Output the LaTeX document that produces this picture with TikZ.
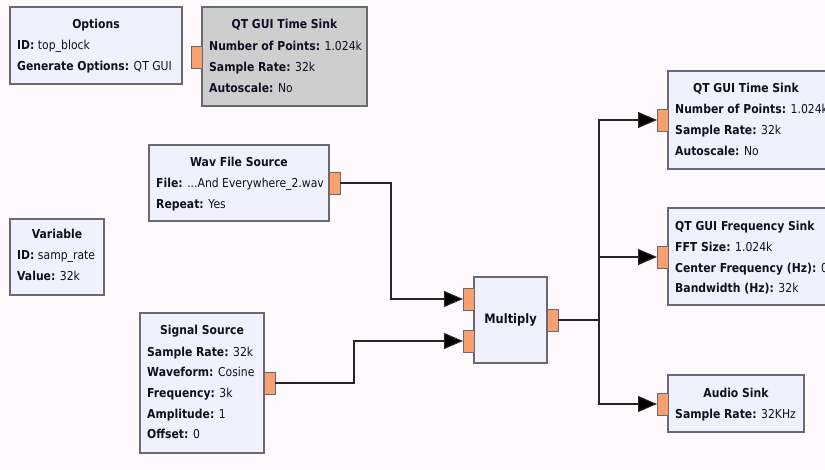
\documentclass[tikz,border=0pt]{standalone}
\usepackage{fontspec}
\setmainfont[FakeStretch=0.88]{DejaVu Sans}
\usetikzlibrary{arrows.meta}
\definecolor{bgc}{RGB}{253,249,253}
\definecolor{blkfill}{RGB}{240,240,254}
\definecolor{grayfill}{RGB}{206,206,206}
\definecolor{bordc}{RGB}{105,105,110}
\definecolor{portc}{RGB}{248,160,112}
\definecolor{txtc}{RGB}{15,15,35}
\begin{document}
\begin{tikzpicture}[x=1pt,y=-1pt,
  blk/.style={draw=bordc, fill=blkfill, line width=1.1pt, inner sep=0pt, outer sep=0pt, anchor=north west},
  gblk/.style={blk, fill=grayfill},
  port/.style={draw=bordc, fill=portc, line width=0.8pt, minimum width=11pt, minimum height=22pt, inner sep=0pt, outer sep=0pt, anchor=north west},
  lbl/.style={anchor=base west, inner sep=0pt, font=\fontsize{12.3}{14}\selectfont, text=txtc},
  ttl/.style={anchor=base, inner sep=0pt, font=\fontsize{12.3}{14}\selectfont\bfseries, text=txtc},
  wire/.style={line width=1.1pt, draw=black!85},
  arr/.style={wire, -{Triangle[length=19pt,width=16pt,fill=black]}}]
\fill[bgc] (0,0) rectangle (825,470);
\useasboundingbox (0,0) rectangle (825,470);
\begin{scope}
\clip (0,0) rectangle (825,470);
% Options
\node[blk, minimum width=172pt, minimum height=77pt] (opt) at (10,7) {};
\node[ttl] (optT) at (96,28.5) {Options};
\node[lbl] (optA) at (17,49.5) {\textbf{ID:} top\_block};
\node[lbl] (optB) at (17,70.5) {\textbf{Generate Options:} QT GUI};
% Gray time sink
\node[gblk, minimum width=165pt, minimum height=99pt] (gts) at (202,7) {};
\node[port] (gtsp) at (191,46) {};
\node[ttl] (gtsT) at (284.5,29) {QT GUI Time Sink};
\node[lbl] (gtsA) at (209,50.5) {\textbf{Number of Points:} 1.024k};
\node[lbl] (gtsB) at (209,71.5) {\textbf{Sample Rate:} 32k};
\node[lbl] (gtsC) at (209,92.5) {\textbf{Autoscale:} No};
% Wav File Source
\node[blk, minimum width=180pt, minimum height=76pt] (wav) at (149,145) {};
\node[port] (wavp) at (329,172) {};
\node[ttl] (wavT) at (239,167) {Wav File Source};
\node[lbl] (wavA) at (156,188) {\textbf{File:} ...And Everywhere\_2.wav};
\node[lbl] (wavB) at (156,209) {\textbf{Repeat:} Yes};
% Variable
\node[blk, minimum width=94pt, minimum height=76pt] (var) at (10,219) {};
\node[ttl] (varT) at (57,239) {Variable};
\node[lbl] (varA) at (17,260) {\textbf{ID:} samp\_rate};
\node[lbl] (varB) at (17,281) {\textbf{Value:} 32k};
% Signal Source
\node[blk, minimum width=124pt, minimum height=140pt] (sig) at (140,313) {};
\node[port] (sigp) at (264,372) {};
\node[ttl] (sigT) at (202,335) {Signal Source};
\node[lbl] (sigA) at (147,356.5) {\textbf{Sample Rate:} 32k};
\node[lbl] (sigB) at (147,377) {\textbf{Waveform:} Cosine};
\node[lbl] (sigC) at (147,397.5) {\textbf{Frequency:} 3k};
\node[lbl] (sigD) at (147,418) {\textbf{Amplitude:} 1};
\node[lbl] (sigE) at (147,438.5) {\textbf{Offset:} 0};
% Multiply
\node[blk, minimum width=73pt, minimum height=86pt] (mul) at (474,277) {};
\node[port] (m1) at (463,288) {};
\node[port] (m2) at (463,330) {};
\node[port] (mo) at (547,309) {};
\node[ttl, anchor=center, font=\fontsize{13}{15}\selectfont\bfseries] (mulT) at (510.5,320) {Multiply};
% Right time sink
\node[blk, minimum width=170pt, minimum height=98pt] (ts) at (668,71) {};
\node[port] (tsp) at (657,109) {};
\node[ttl] (tsT) at (746,93) {QT GUI Time Sink};
\node[lbl] (tsA) at (675,114) {\textbf{Number of Points:} 1.024k};
\node[lbl] (tsB) at (675,135) {\textbf{Sample Rate:} 32k};
\node[lbl] (tsC) at (675,155.5) {\textbf{Autoscale:} No};
% Frequency sink
\node[blk, minimum width=190pt, minimum height=97pt] (fs) at (668,208) {};
\node[port] (fsp) at (657,246) {};
\node[ttl, anchor=base west] (fsT) at (675,230.5) {QT GUI Frequency Sink};
\node[lbl] (fsA) at (675,251.5) {\textbf{FFT Size:} 1.024k};
\node[lbl] (fsB) at (675,272.5) {\textbf{Center Frequency (Hz):} 0};
\node[lbl] (fsC) at (675,293) {\textbf{Bandwidth (Hz):} 32k};
% Audio sink
\node[blk, minimum width=136pt, minimum height=57pt] (au) at (668,375) {};
\node[port] (aup) at (657,393) {};
\node[ttl] (auT) at (736,397.5) {Audio Sink};
\node[lbl] (auA) at (675,418) {\textbf{Sample Rate:} 32KHz};
% Connections
\draw[arr] (wavp.east) -- ++(51,0) |- (m1.west);
\draw[arr] (sigp.east) -- ++(79,0) |- (m2.west);
\draw[wire] (mo.east) -- ++(41,0) coordinate (j);
\draw[arr] (j) |- (tsp.west);
\draw[arr] (j) |- (fsp.west);
\draw[arr] (j) |- (aup.west);
\end{scope}
\end{tikzpicture}
\end{document}
